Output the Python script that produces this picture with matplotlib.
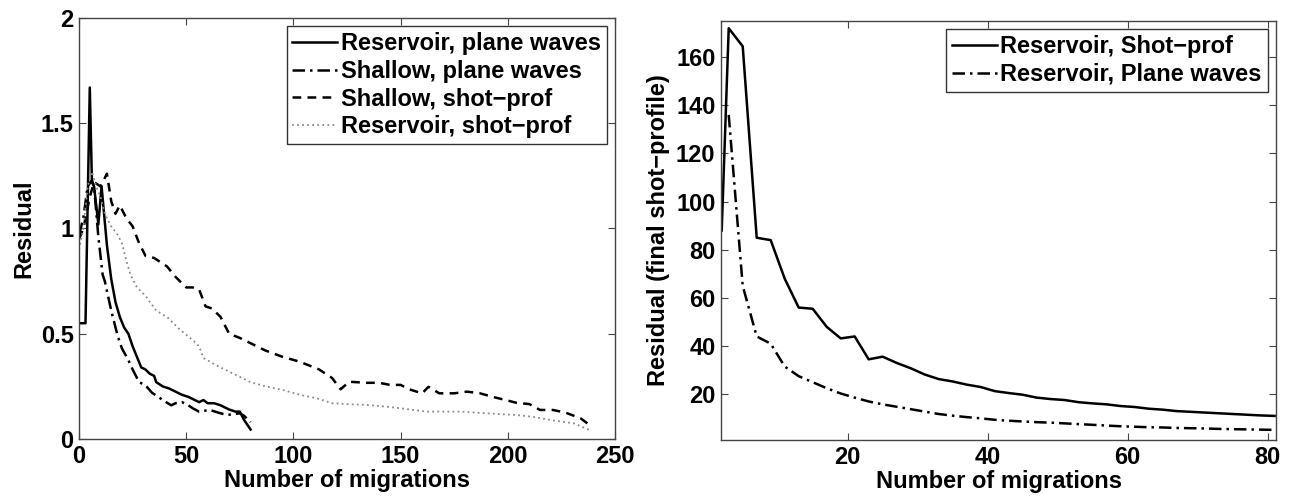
import matplotlib
matplotlib.use("Agg")
import matplotlib.pyplot as plt

plt.rcParams['font.family'] = ['Liberation Sans', 'DejaVu Sans']
plt.rcParams['font.weight'] = 'bold'

# ---------------- Left panel data ----------------
res_pw_x = [0, 3, 5, 6, 7, 9, 10.5, 13, 15, 17, 19, 21, 23, 25, 27, 29, 31, 33, 35, 36, 39,
            42, 45, 48, 51, 54, 56, 58, 60, 63, 66, 70, 73, 75, 77, 80]
res_pw_y = [0.55, 0.55, 1.67, 1.22, 1.2, 1.02, 1.2, 0.92, 0.76, 0.65, 0.58, 0.53, 0.50, 0.44,
            0.39, 0.34, 0.33, 0.31, 0.30, 0.27, 0.25, 0.24, 0.225, 0.21, 0.20, 0.185, 0.175,
            0.185, 0.17, 0.17, 0.16, 0.14, 0.13, 0.13, 0.09, 0.045]

sh_pw_x = [0, 2, 4, 6, 7, 9, 11, 12, 15, 18, 20, 23, 25, 28, 31, 34, 37, 39, 43, 45, 48, 51,
           53, 56, 59, 61, 65, 69, 72, 75, 77, 80]
sh_pw_y = [0.97, 1.05, 1.2, 1.23, 1.2, 0.96, 0.78, 0.75, 0.61, 0.49, 0.43, 0.375, 0.33, 0.27,
           0.255, 0.22, 0.2, 0.185, 0.16, 0.17, 0.175, 0.16, 0.146, 0.13, 0.135, 0.138, 0.125,
           0.114, 0.118, 0.122, 0.11, 0.08]

sh_sp_x = [0, 2, 5, 7, 10, 13, 15, 17, 19, 22, 25, 28, 31, 35, 38, 41, 45, 50, 53, 56, 59, 62,
           66, 70, 75, 80, 87, 95, 103, 112, 118, 122, 126, 134, 140, 145, 150, 154, 160, 163,
           168, 175, 181, 187, 193, 199, 204, 210, 215, 221, 227, 234, 238]
sh_sp_y = [0.95, 1.0, 1.15, 1.22, 1.2, 1.26, 1.13, 1.07, 1.11, 1.05, 1.01, 0.93, 0.87, 0.86,
           0.84, 0.82, 0.77, 0.72, 0.72, 0.71, 0.63, 0.62, 0.58, 0.50, 0.48, 0.455, 0.42, 0.39,
           0.367, 0.33, 0.29, 0.236, 0.272, 0.267, 0.267, 0.257, 0.257, 0.236, 0.217, 0.248,
           0.217, 0.217, 0.225, 0.217, 0.2, 0.185, 0.172, 0.166, 0.138, 0.138, 0.125, 0.098,
           0.067]

res_sp_x = [0, 2, 4, 6, 8, 10, 12, 15, 18, 20, 22, 24, 27, 31, 36, 41, 47, 53, 56, 58, 64, 72,
            80, 87, 95, 103, 111, 118, 126, 134, 142, 150, 162, 178, 190, 204, 212, 220, 231,
            238]
res_sp_y = [0.9, 1.0, 1.2, 1.27, 1.2, 1.15, 1.07, 1.01, 0.97, 0.93, 0.85, 0.78, 0.72, 0.68,
            0.61, 0.58, 0.52, 0.47, 0.44, 0.385, 0.35, 0.31, 0.27, 0.25, 0.233, 0.21, 0.193,
            0.17, 0.165, 0.162, 0.155, 0.146, 0.13, 0.13, 0.122, 0.114, 0.105, 0.09, 0.074,
            0.043]

left_labels = ["Reservoir, plane waves", "Shallow, plane waves",
               "Shallow, shot\u2212prof", "Reservoir, shot\u2212prof"]

# ---------------- Right panel data ----------------
r_sp_x = [2] + list(range(3, 82, 2))
r_sp_y = [88, 172, 164.5, 85, 84, 68, 56, 55.5, 48, 43.2, 44, 34.5, 35.6, 33, 30.8, 28.2, 26.3,
          25.3, 24, 23, 21.3, 20.5, 19.8, 18.6, 18, 17.6, 16.7, 16.2, 15.8, 15.1, 14.7, 14,
          13.6, 13, 12.7, 12.4, 12.1, 11.8, 11.5, 11.2, 11.0]

r_pw_x = list(range(3, 82, 2))
r_pw_y = [136, 65, 44, 41, 31.5, 27.5, 25, 22.5, 20.3, 18.6, 17, 15.8, 14.8, 13.8, 12.8, 11.8,
          11.1, 10.5, 10, 9.4, 9.0, 8.7, 8.4, 8.2, 7.9, 7.6, 7.3, 7.0, 6.7, 6.5, 6.3, 6.2, 6.0,
          5.9, 5.8, 5.6, 5.5, 5.4, 5.3, 5.2]

right_labels = ["Reservoir, Shot\u2212prof", "Reservoir, Plane waves"]

# ---------------- Figure ----------------
fig = plt.figure(figsize=(12.94, 4.97), dpi=100)
ax1 = fig.add_axes([0.0611, 0.1167, 0.4142, 0.8471])
ax2 = fig.add_axes([0.5572, 0.1147, 0.4289, 0.8430])

lw = 1.8
ax1.plot(res_pw_x, res_pw_y, color='black', lw=lw, linestyle='-', label=left_labels[0])
ax1.plot(sh_pw_x, sh_pw_y, color='black', lw=lw, linestyle=(0, (5, 2, 1, 2)), label=left_labels[1])
ax1.plot(sh_sp_x, sh_sp_y, color='black', lw=lw, linestyle=(0, (3.5, 2.5)), label=left_labels[2])
ax1.plot(res_sp_x, res_sp_y, color='#8a8a8a', lw=1.3, linestyle=(0, (1, 1.8)), label=left_labels[3])

ax2.plot(r_sp_x, r_sp_y, color='black', lw=lw, linestyle='-', label=right_labels[0])
ax2.plot(r_pw_x, r_pw_y, color='black', lw=lw, linestyle=(0, (5, 2, 1, 2)), label=right_labels[1])

ax1.set_xlim(0, 250)
ax1.set_ylim(0, 2)
ax1.set_xticks([0, 50, 100, 150, 200, 250])
ax1.set_yticks([0, 0.5, 1, 1.5, 2])
ax1.set_yticklabels(["0", "0.5", "1", "1.5", "2"])

ax2.set_xlim(1.9, 81.2)
ax2.set_ylim(1, 175)
ax2.set_xticks([20, 40, 60, 80])
ax2.set_yticks([20, 40, 60, 80, 100, 120, 140, 160])

for ax in (ax1, ax2):
    for s in ax.spines.values():
        s.set_color('#444444')
        s.set_linewidth(1.0)
    ax.tick_params(direction='in', top=True, right=True, length=5, width=0.8,
                   color='#444444', labelsize=17, pad=4)
    for lab in ax.get_xticklabels() + ax.get_yticklabels():
        lab.set_fontweight('bold')

ax1.set_xlabel("Number of migrations", fontsize=17, fontweight='bold', labelpad=1)
ax1.set_ylabel("Residual", fontsize=17, fontweight='bold', labelpad=4)
ax2.set_xlabel("Number of migrations", fontsize=17, fontweight='bold', labelpad=1)
ax2.set_ylabel("Residual (final shot\u2212profile)", fontsize=17, fontweight='bold', labelpad=4)

leg_kw = dict(fontsize=17, frameon=True, fancybox=False, edgecolor='#333333', framealpha=1,
              handlelength=1.9, handletextpad=0.15, labelspacing=0.2, borderpad=0.25,
              borderaxespad=0.35)
l1 = ax1.legend(loc='upper right', **leg_kw)
l2 = ax2.legend(loc='upper right', **leg_kw)
for l in (l1, l2):
    l.get_frame().set_linewidth(1.0)
    for t in l.get_texts():
        t.set_fontweight('bold')

fig.savefig("out.png", dpi=100)
